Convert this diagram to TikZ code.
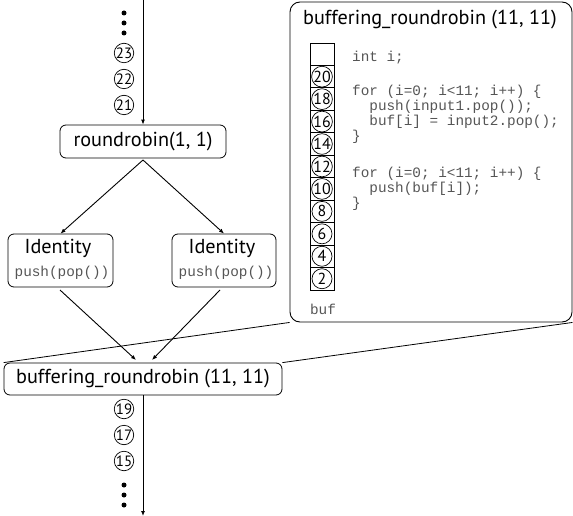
\documentclass[tikz,border=0pt]{standalone}
\usepackage{fontspec}
\setmainfont{PT Sans}
\setmonofont{Liberation Mono}
\usetikzlibrary{arrows.meta}
\definecolor{codegray}{HTML}{555555}
\tikzset{
  box/.style={draw, rounded corners=6bp, line width=0.8bp, inner sep=0pt},
  title/.style={font=\fontsize{20.3}{22}\selectfont, inner sep=0pt},
  code/.style={font=\fontsize{14.4}{15}\ttfamily, text=codegray, inner sep=0pt, anchor=base west},
  cnum/.style={draw, circle, line width=0.7bp, inner sep=0pt, minimum size=18bp, font=\fontsize{15}{15}\selectfont},
  bnum/.style={draw, circle, line width=0.7bp, inner sep=0pt, minimum size=20bp, font=\fontsize{16}{16}\selectfont},
  cell/.style={draw, line width=0.8bp, minimum width=24bp, minimum height=22.45bp, inner sep=0pt},
  dot/.style={fill, circle, inner sep=0pt, minimum size=5bp},
  flow/.style={line width=0.9bp, -{Latex[length=5bp,width=4bp]}},
  zoomline/.style={line width=0.8bp}
}
\begin{document}
\begin{tikzpicture}[x=1bp, y=-1bp]
\useasboundingbox (0,0) rectangle (573,516);
% top stream
\coordinate (top) at (143,0);
\node[dot] (d1) at (124,13) {};
\node[dot] (d2) at (124,23) {};
\node[dot] (d3) at (124,33) {};
\node[cnum] (n23) at (124,53) {23};
\node[cnum] (n22) at (124,79) {22};
\node[cnum] (n21) at (124,105) {21};
\node[box, minimum width=166bp, minimum height=33bp] (rr) at (143,141.5) {};
\node[title] (rrt) at (rr.center) {roundrobin(1, 1)};
\draw[flow] (top) -- (rr.north);
% identities
\node[box, minimum width=105bp, minimum height=53bp] (id1) at (60.5,260.5) {};
\node[title] (id1t) at (58,248) {Identity};
\node[code, anchor=center] (id1c) at (62,273) {push(pop())};
\node[box, minimum width=104bp, minimum height=53bp] (id2) at (224,260.5) {};
\node[title] (id2t) at (222,248) {Identity};
\node[code, anchor=center] (id2c) at (226,273) {push(pop())};
\coordinate (apex) at (143,160);
\draw[flow] (apex) -- (id1.north);
\draw[flow] (apex) -- (id2.north);
% buffering roundrobin
\node[box, minimum width=278bp, minimum height=32bp] (br) at (143,379) {};
\node[title] (brt) at (br.center) {buffering\_roundrobin (11, 11)};
\coordinate (brin1) at (136,360);
\coordinate (brin2) at (152,360);
\draw[flow] (60,290) -- (brin1);
\draw[flow] (220,290) -- (brin2);
% bottom stream
\node[cnum] (n19) at (124,409) {19};
\node[cnum] (n17) at (124,435) {17};
\node[cnum] (n15) at (124,461) {15};
\node[dot] (d4) at (124,485) {};
\node[dot] (d5) at (124,495) {};
\node[dot] (d6) at (124,505) {};
\coordinate (bot) at (143,516);
\draw[flow] (br.south) -- (bot);
% expanded view
\node[draw, rounded corners=10bp, line width=0.9bp, minimum width=282bp, minimum height=320bp, inner sep=0pt] (big) at (431,162) {};
\node[title] (bigt) at (430,20) {buffering\_roundrobin (11, 11)};
\foreach \i in {0,...,10} {
  \node[cell] (c\i) at (322,{43+22.45*(\i+0.5)}) {};
}
\foreach \i/\v in {1/20,2/18,3/16,4/14,5/12,6/10,7/8,8/6,9/4,10/2} {
  \node[bnum] (b\i) at (c\i.center) {\v};
}
\node[code, anchor=center] (buf) at (323,309) {buf};
\node[code] (l1) at (352,62) {int i;};
\node[code] (l2) at (352,96) {for (i=0; i<11; i++) \{};
\node[code] (l3) at (352,111) {\ \ push(input1.pop());};
\node[code] (l4) at (352,126) {\ \ buf[i] = input2.pop();};
\node[code] (l5) at (352,141) {\}};
\node[code] (l6) at (352,178) {for (i=0; i<11; i++) \{};
\node[code] (l7) at (352,193) {\ \ push(buf[i]);};
\node[code] (l8) at (352,208) {\}};
% zoom lines
\draw[zoomline] (br.north west) -- (big.south west);
\draw[zoomline] (br.north east) -- (big.south east);
\end{tikzpicture}
\end{document}
